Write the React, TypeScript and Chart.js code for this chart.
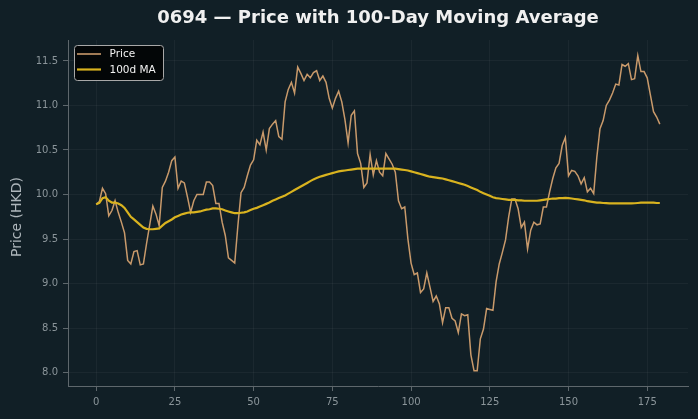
import React, { useEffect, useRef } from "react";
import { Chart, registerables } from "chart.js";

Chart.register(...registerables);

const TITLE = "0694 — Price with 100-Day Moving Average";
const Y_LABEL = "Price (HKD)";
const SERIES_NAMES = ["Price", "100d MA"];

const price: number[] = [
  9.89, 9.92, 10.07, 10.01, 9.76, 9.82, 9.93, 9.80, 9.69, 9.57,
  9.26, 9.22, 9.36, 9.37, 9.21, 9.22, 9.45, 9.66, 9.87, 9.78,
  9.65, 10.08, 10.15, 10.25, 10.38, 10.42, 10.07, 10.15, 10.13, 9.97,
  9.80, 9.93, 10.00, 10.00, 10.00, 10.14, 10.14, 10.10, 9.90, 9.90,
  9.69, 9.54, 9.29, 9.26, 9.23, 9.65, 10.02, 10.08, 10.21, 10.33,
  10.39, 10.61, 10.56, 10.70, 10.50, 10.74, 10.79, 10.83, 10.65, 10.62,
  11.04, 11.18, 11.26, 11.14, 11.43, 11.36, 11.28, 11.35, 11.31, 11.37,
  11.39, 11.28, 11.33, 11.26, 11.08, 10.97, 11.08, 11.16, 11.04, 10.84,
  10.58, 10.89, 10.94, 10.46, 10.35, 10.08, 10.13, 10.45, 10.22, 10.38,
  10.25, 10.21, 10.46, 10.40, 10.34, 10.25, 9.93, 9.84, 9.86, 9.50,
  9.23, 9.10, 9.12, 8.90, 8.94, 9.12, 8.96, 8.80, 8.86, 8.77,
  8.56, 8.73, 8.73, 8.61, 8.58, 8.45, 8.66, 8.64, 8.65, 8.20,
  8.02, 8.02, 8.38, 8.49, 8.72, 8.71, 8.70, 9.02, 9.22, 9.35,
  9.49, 9.75, 9.95, 9.95, 9.84, 9.63, 9.69, 9.39, 9.60, 9.69,
  9.66, 9.67, 9.86, 9.86, 10.03, 10.18, 10.30, 10.35, 10.55, 10.64,
  10.21, 10.27, 10.26, 10.21, 10.12, 10.19, 10.03, 10.07, 10.01, 10.42,
  10.74, 10.83, 11.00, 11.06, 11.14, 11.24, 11.23, 11.46, 11.44, 11.47,
  11.29, 11.30, 11.56, 11.38, 11.38, 11.31, 11.12, 10.93, 10.87, 10.79,
];

const ma100: number[] = [
  9.89, 9.905, 9.96, 9.97, 9.93, 9.91, 9.91, 9.90, 9.88, 9.85,
  9.80, 9.75, 9.72, 9.69, 9.66, 9.63, 9.615, 9.61, 9.61, 9.615,
  9.62, 9.65, 9.68, 9.70, 9.72, 9.745, 9.76, 9.775, 9.785, 9.795,
  9.80, 9.80, 9.805, 9.81, 9.82, 9.83, 9.835, 9.845, 9.845, 9.84,
  9.835, 9.82, 9.81, 9.80, 9.79, 9.79, 9.795, 9.80, 9.81, 9.825,
  9.84, 9.85, 9.865, 9.88, 9.895, 9.91, 9.93, 9.945, 9.96, 9.975,
  9.99, 10.01, 10.03, 10.05, 10.07, 10.09, 10.11, 10.13, 10.15, 10.17,
  10.185, 10.20, 10.21, 10.22, 10.23, 10.24, 10.25, 10.26, 10.265, 10.27,
  10.275, 10.28, 10.285, 10.29, 10.29, 10.29, 10.29, 10.29, 10.29, 10.29,
  10.29, 10.29, 10.29, 10.29, 10.29, 10.29, 10.285, 10.28, 10.275, 10.27,
  10.26, 10.25, 10.24, 10.23, 10.22, 10.21, 10.20, 10.195, 10.19, 10.185,
  10.18, 10.17, 10.16, 10.15, 10.14, 10.13, 10.12, 10.11, 10.095, 10.08,
  10.065, 10.05, 10.03, 10.015, 10.00, 9.985, 9.97, 9.96, 9.955, 9.95,
  9.945, 9.94, 9.94, 9.94, 9.935, 9.935, 9.93, 9.93, 9.93, 9.93,
  9.93, 9.935, 9.94, 9.945, 9.95, 9.955, 9.955, 9.96, 9.96, 9.963,
  9.96, 9.955, 9.95, 9.945, 9.94, 9.935, 9.925, 9.92, 9.915, 9.91,
  9.908, 9.905, 9.903, 9.90, 9.90, 9.90, 9.90, 9.90, 9.90, 9.90,
  9.90, 9.902, 9.905, 9.908, 9.91, 9.91, 9.91, 9.908, 9.905, 9.905,
];

const xTicks: number[] = [0, 25, 50, 75, 100, 125, 150, 175];
const yTicks: number[] = [8.0, 8.5, 9.0, 9.5, 10.0, 10.5, 11.0, 11.5];
const xRange: number[] = [-8.95, 187.95];
const yRange: number[] = [7.85, 11.735];

const BG = "#111f26";
const PRICE_COLOR = "#c99a6b";
const MA_COLOR = "#d9b31f";
const TICK_COLOR = "#8b959a";
const SPINE_COLOR = "#5e676c";
const FONT = "'DejaVu Sans', sans-serif";

export default function App() {
  const ref = useRef<HTMLCanvasElement | null>(null);

  useEffect(() => {
    document.body.style.margin = "0";
    document.body.style.background = BG;
    const canvas = ref.current;
    if (!canvas) return;

    const decor = {
      id: "decor",
      beforeDraw(chart: any) {
        const ctx = chart.ctx;
        ctx.save();
        ctx.fillStyle = BG;
        ctx.fillRect(0, 0, chart.width, chart.height);
        ctx.restore();
      },
      afterDraw(chart: any) {
        const ctx = chart.ctx;
        const area = chart.chartArea;
        ctx.save();
        // title
        ctx.fillStyle = "#f0f0f0";
        ctx.font = `bold 18px ${FONT}`;
        ctx.textAlign = "center";
        ctx.textBaseline = "middle";
        ctx.fillText(TITLE, (area.left + area.right) / 2, 18);
        // y label
        ctx.save();
        ctx.translate(17, (area.top + area.bottom) / 2 + 4);
        ctx.rotate(-Math.PI / 2);
        ctx.fillStyle = "#aeb6bb";
        ctx.font = `14px ${FONT}`;
        ctx.fillText(Y_LABEL, 0, 0);
        ctx.restore();
        // legend
        const bx = area.left + 6.5, by = area.top + 5.5, bw = 89, bh = 35, r = 3;
        ctx.beginPath();
        ctx.moveTo(bx + r, by);
        ctx.lineTo(bx + bw - r, by);
        ctx.quadraticCurveTo(bx + bw, by, bx + bw, by + r);
        ctx.lineTo(bx + bw, by + bh - r);
        ctx.quadraticCurveTo(bx + bw, by + bh, bx + bw - r, by + bh);
        ctx.lineTo(bx + r, by + bh);
        ctx.quadraticCurveTo(bx, by + bh, bx, by + bh - r);
        ctx.lineTo(bx, by + r);
        ctx.quadraticCurveTo(bx, by, bx + r, by);
        ctx.closePath();
        ctx.fillStyle = "rgba(2,4,5,0.93)";
        ctx.fill();
        ctx.strokeStyle = "#a8a8a8";
        ctx.lineWidth = 1;
        ctx.stroke();
        const items = [
          { name: SERIES_NAMES[0], color: PRICE_COLOR, w: 1.6, y: 54 },
          { name: SERIES_NAMES[1], color: MA_COLOR, w: 2.2, y: 69.5 },
        ];
        ctx.textAlign = "left";
        ctx.font = `10.5px ${FONT}`;
        for (const it of items) {
          ctx.beginPath();
          ctx.moveTo(77, it.y);
          ctx.lineTo(101, it.y);
          ctx.strokeStyle = it.color;
          ctx.lineWidth = it.w;
          ctx.stroke();
          ctx.fillStyle = "#f2f2f2";
          ctx.fillText(it.name, 109.5, it.y + 0.5);
        }
        ctx.restore();
      },
    };

    const chart = new Chart(canvas, {
      type: "line",
      data: {
        datasets: [
          {
            label: SERIES_NAMES[0],
            data: price.map((v, i) => ({ x: i, y: v })),
            borderColor: PRICE_COLOR,
            borderWidth: 1.5,
            pointRadius: 0,
            tension: 0,
            fill: false,
            order: 2,
          },
          {
            label: SERIES_NAMES[1],
            data: ma100.map((v, i) => ({ x: i, y: v })),
            borderColor: MA_COLOR,
            borderWidth: 2.2,
            pointRadius: 0,
            tension: 0,
            fill: false,
            order: 1,
          },
        ],
      },
      options: {
        animation: false,
        responsive: false,
        devicePixelRatio: 1,
        layout: { padding: { top: 40, right: 10, left: 0, bottom: 0 } },
        plugins: {
          legend: { display: false },
          title: { display: false },
          tooltip: { enabled: false },
        },
        scales: {
          x: {
            type: "linear",
            min: xRange[0],
            max: xRange[1],
            afterBuildTicks: (s: any) => {
              s.ticks = xTicks.map((v) => ({ value: v }));
            },
            afterFit: (s: any) => {
              s.height = 33;
            },
            ticks: {
              color: TICK_COLOR,
              font: { family: FONT, size: 10 },
              padding: 5,
              maxRotation: 0,
              autoSkip: false,
              callback: (v: any) => String(v),
            },
            grid: {
              color: "rgba(255,255,255,0.045)",
              tickColor: SPINE_COLOR,
              tickLength: 5,
            },
            border: { color: SPINE_COLOR, width: 1 },
          },
          y: {
            type: "linear",
            min: yRange[0],
            max: yRange[1],
            afterBuildTicks: (s: any) => {
              s.ticks = yTicks.map((v) => ({ value: v }));
            },
            afterFit: (s: any) => {
              s.width = 68;
            },
            ticks: {
              color: TICK_COLOR,
              font: { family: FONT, size: 10 },
              padding: 5,
              autoSkip: false,
              callback: (v: any) => Number(v).toFixed(1),
            },
            grid: {
              color: "rgba(255,255,255,0.045)",
              tickColor: SPINE_COLOR,
              tickLength: 5,
            },
            border: { color: SPINE_COLOR, width: 1 },
          },
        },
      },
      plugins: [decor],
    });

    return () => chart.destroy();
  }, []);

  return (
    <div style={{ width: 698, height: 419, background: BG }}>
      <canvas ref={ref} width={698} height={419} style={{ display: "block" }} />
    </div>
  );
}
